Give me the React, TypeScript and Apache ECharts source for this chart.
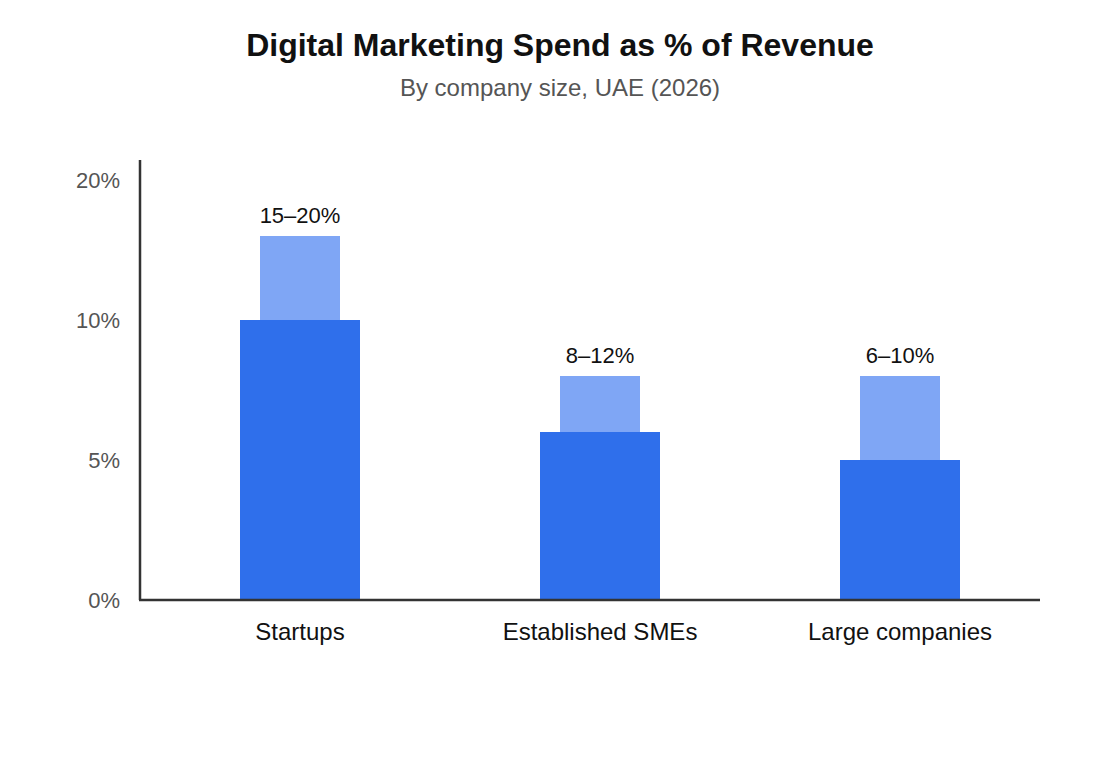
import React, { useEffect, useRef } from 'react';
import * as echarts from 'echarts';

const categories = ['Startups', 'Established SMEs', 'Large companies'];
// typical spend (dark bar) and upper end (light bar), in % of revenue
const baseValues = [10, 6, 5];
const upperValues = [16, 8, 8];
const rangeLabels = ['15–20%', '8–12%', '6–10%'];
const tickValues = [0, 5, 10, 20];

// the y axis is piecewise: 0–5, 5–10 and 10–20 take equal space
const toAxis = (v: number) => (v <= 10 ? v : 10 + (v - 10) / 2);
const fromAxis = (p: number) => (p <= 10 ? p : 10 + (p - 10) * 2);

const FONT = '"Liberation Sans", Arial, sans-serif';

const App: React.FC = () => {
  const chartRef = useRef<HTMLDivElement>(null);

  useEffect(() => {
    if (!chartRef.current) return;
    const chart = echarts.init(chartRef.current, null, { renderer: 'svg' });

    const option = {
      animation: false,
      backgroundColor: '#fff',
      textStyle: { fontFamily: FONT },
      title: [
        {
          text: 'Digital Marketing Spend as % of Revenue',
          left: 'center',
          top: 24,
          textStyle: { fontFamily: FONT, fontSize: 32, fontWeight: 'bold', color: '#111' },
        },
        {
          text: 'By company size, UAE (2026)',
          left: 'center',
          top: 70,
          textStyle: { fontFamily: FONT, fontSize: 24, fontWeight: 'normal', color: '#555' },
        },
      ],
      grid: { left: 150, right: 70, top: 180, bottom: 160 },
      xAxis: [
        {
          type: 'category',
          data: categories,
          axisLine: { show: false },
          axisTick: { show: false },
          axisLabel: { fontFamily: FONT, fontSize: 24, color: '#111', margin: 19 },
        },
        {
          type: 'category',
          data: categories,
          show: false,
        },
      ],
      yAxis: {
        type: 'value',
        min: 0,
        max: toAxis(tickValues[tickValues.length - 1]),
        interval: 5,
        axisLine: { show: false },
        axisTick: { show: false },
        splitLine: { show: false },
        axisLabel: {
          fontFamily: FONT,
          fontSize: 22,
          color: '#555',
          margin: 30,
          formatter: (v: number) => `${fromAxis(v)}%`,
        },
      },
      graphic: [
        {
          type: 'line',
          shape: { x1: 140, y1: 160, x2: 140, y2: 600 },
          style: { stroke: '#333', lineWidth: 2.5 },
        },
        {
          type: 'line',
          shape: { x1: 139, y1: 600, x2: 1040, y2: 600 },
          style: { stroke: '#333', lineWidth: 2.5 },
          z: 10,
        },
      ],
      series: [
        {
          name: 'Upper range',
          type: 'bar',
          xAxisIndex: 0,
          barWidth: 80,
          z: 1,
          itemStyle: { color: '#7fa6f5' },
          data: upperValues.map((v) => toAxis(v)),
          label: {
            show: true,
            position: 'top',
            distance: 10,
            fontFamily: FONT,
            fontSize: 22,
            color: '#111',
            formatter: (p: { dataIndex: number }) => rangeLabels[p.dataIndex],
          },
        },
        {
          name: 'Typical',
          type: 'bar',
          xAxisIndex: 1,
          barWidth: 120,
          z: 2,
          itemStyle: { color: '#2f6feb' },
          data: baseValues.map((v) => toAxis(v)),
        },
      ],
    };

    chart.setOption(option);
    return () => chart.dispose();
  }, []);

  return <div ref={chartRef} style={{ width: 1120, height: 760, margin: -8 }} />;
};

export default App;
